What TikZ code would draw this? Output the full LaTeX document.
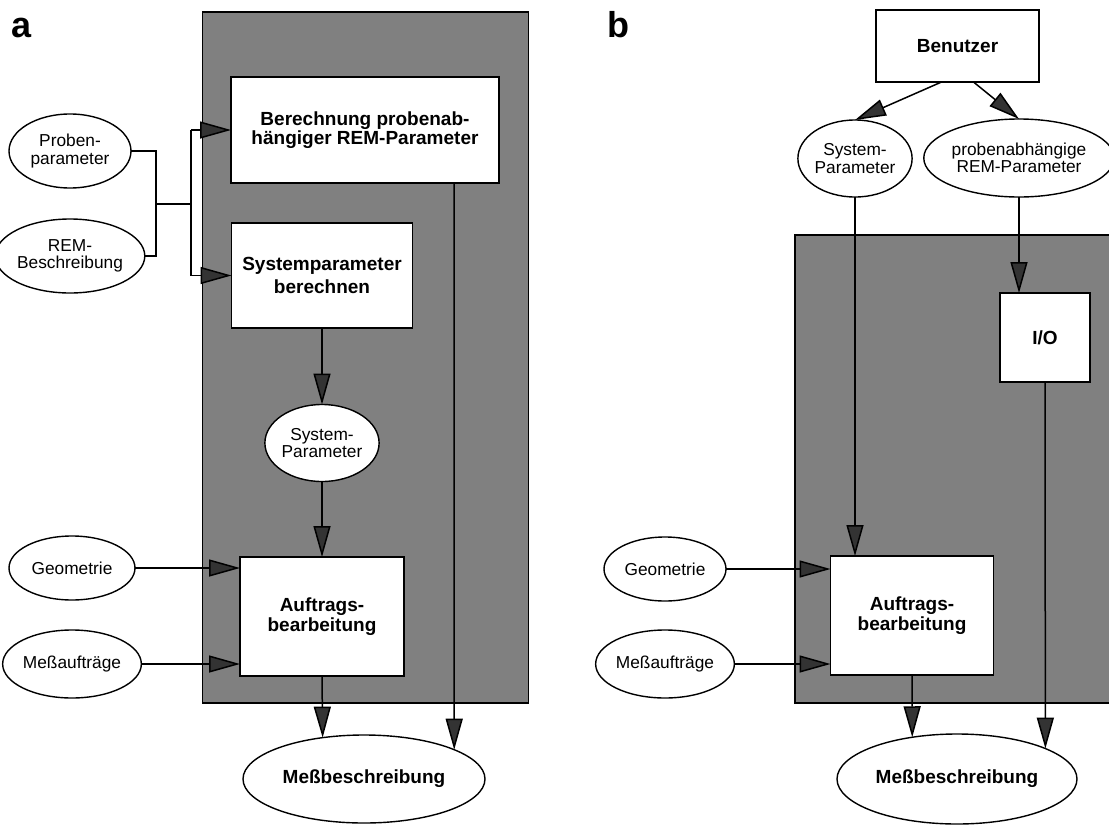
\documentclass[tikz,border=0pt]{standalone}
\usepackage{fontspec}
\setmainfont{Liberation Sans}
\usetikzlibrary{arrows.meta,shapes.geometric,calc}

\begin{document}
\begin{tikzpicture}[x=1pt,y=-1pt,
  panel/.style={draw=black, line width=1.8pt, fill=black!50},
  procbox/.style={draw=black, line width=1.7pt, fill=white, rectangle,
    inner sep=0pt, outer sep=0pt, align=center,
    font=\fontsize{19}{19.5}\selectfont\bfseries},
  datanode/.style={draw=black, line width=1.4pt, fill=white, ellipse,
    inner sep=0pt, outer sep=0pt, align=center,
    font=\fontsize{17.3}{17.5}\selectfont},
  boldtext/.style={font=\fontsize{19}{19.5}\selectfont\bfseries},
  flow/.style={line width=1.5pt, -{Triangle[length=31pt,width=17pt,fill=black!80]}},
  link/.style={line width=1.5pt},
  tag/.style={font=\fontsize{36}{36}\selectfont\bfseries, anchor=base west, inner sep=0pt}
]
\fill[white] (0,0) rectangle (1109,825);
\useasboundingbox (0,0) rectangle (1109,825);

% ---------------- part a ----------------
\node[tag] (taga) at (11,37) {a};
\draw[panel] (202.5,12) rectangle (528.5,703);

\node[procbox, minimum width=268pt, minimum height=106pt] (ra_calc) at (365,130)
  {Berechnung probenab-\\hängiger REM-Parameter};
\node[procbox, minimum width=181pt, minimum height=105pt] (ra_sys) at (322,275.5)
  {Systemparameter\\[3pt]berechnen};
\node[datanode, minimum width=122pt, minimum height=74pt] (ea_prob) at (70,151)
  {Proben-\\parameter};
\node[datanode, minimum width=122pt, minimum height=74pt] (ea_rem) at (70,256)
  {REM-\\Beschreibung};
\node[datanode, minimum width=102pt, minimum height=77pt] (ea_syspar) at (322,443)
  {System-\\Parameter};
\node[procbox, minimum width=164pt, minimum height=119pt] (ra_auf) at (322,616.5)
  {Auftrags-\\bearbeitung};
\node[datanode, minimum width=126pt, minimum height=64pt] (ea_geo) at (72,568)
  {Geometrie};
\node[datanode, minimum width=126pt, minimum height=68pt] (ea_mess) at (72,664)
  {Meßaufträge};
\node[datanode, boldtext, minimum width=242pt, minimum height=88pt] (ea_out) at (364,779)
  {Meßbeschreibung};

% merging bracket of the two inputs
\coordinate (ja) at (156,204);
\coordinate (jb) at (191,204);
\draw[link] (ea_prob.east) -| (ja) |- (ea_rem.east);
\draw[link] (ja) -- (jb);
\draw[link] (ra_calc.west -| jb) -- (ra_sys.west -| jb);
\draw[flow] (ra_calc.west -| jb) -- (ra_calc.west);
\draw[flow] (ra_sys.west -| jb) -- (ra_sys.west);

\draw[flow] (ra_sys.south) -- (ea_syspar.north);
\draw[flow] (ea_syspar.south) -- (ra_auf.north);
\draw[flow] (ea_geo.east) -- (ea_geo.east -| ra_auf.west);
\draw[flow] (ea_mess.east) -- (ea_mess.east -| ra_auf.west);
\draw[flow] (ra_auf.south) -- (ea_out.135.5);
\coordinate (xa) at (454,183);
\draw[flow] (xa) -- (ea_out.18.1);

% ---------------- part b ----------------
\node[tag] (tagb) at (607,37) {b};
\draw[panel] (795,235) rectangle (1120,703);

\node[procbox, minimum width=163pt, minimum height=72pt] (rb_user) at (957.5,46)
  {Benutzer};
\node[datanode, minimum width=112pt, minimum height=77pt] (eb_sys) at (855,158.5)
  {System-\\Parameter};
\node[datanode, minimum width=176pt, minimum height=78pt] (eb_prob) at (1019,158)
  {probenabhängige\\REM-Parameter};
\node[procbox, minimum width=90pt, minimum height=89pt] (rb_io) at (1045,337.5)
  {I/O};
\node[procbox, minimum width=163pt, minimum height=119pt] (rb_auf) at (912,615.5)
  {Auftrags-\\bearbeitung};
\node[datanode, minimum width=122pt, minimum height=64pt] (eb_geo) at (665,569)
  {Geometrie};
\node[datanode, minimum width=122pt, minimum height=68pt] (eb_mess) at (665,664)
  {Meßaufträge};
\node[datanode, boldtext, minimum width=240pt, minimum height=90pt] (eb_out) at (957,779)
  {Meßbeschreibung};

\draw[flow] ($(rb_user.south)+(-16,0)$) -- (eb_sys.north);
\draw[flow] ($(rb_user.south)+(16,0)$) -- (eb_prob.north);
\draw[flow] (eb_sys.south) -- (eb_sys.south |- rb_auf.north);
\draw[flow] (eb_prob.south) -- (eb_prob.south |- rb_io.north);
\draw[flow] (rb_io.south) -- (eb_out.19.2);
\draw[flow] (eb_geo.east) -- (eb_geo.east -| rb_auf.west);
\draw[flow] (eb_mess.east) -- (eb_mess.east -| rb_auf.west);
\draw[flow] (rb_auf.south) -- (eb_out.137.2);
\end{tikzpicture}
\end{document}
